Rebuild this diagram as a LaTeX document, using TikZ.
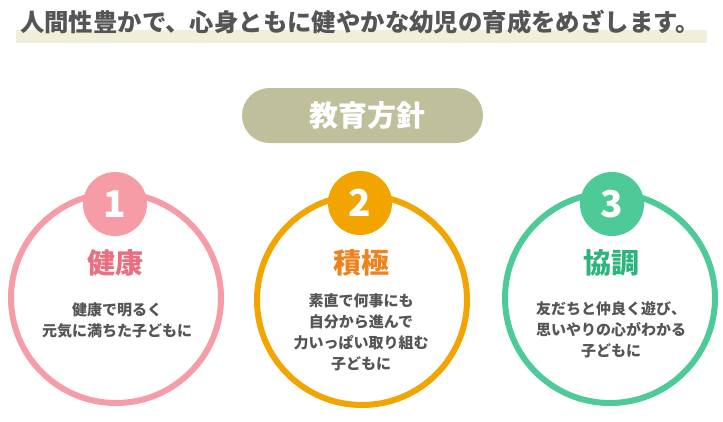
\documentclass[tikz,border=0pt]{standalone}
\usepackage{fontspec}
\newfontfamily\jp{Noto Sans CJK JP}
\definecolor{txtgray}{HTML}{555555}
\definecolor{band}{HTML}{F1EEDA}
\definecolor{pill}{HTML}{BFBF9B}
\definecolor{pinkring}{HTML}{F59CA7}
\definecolor{pinktxt}{HTML}{EA6F80}
\definecolor{orring}{HTML}{F2A500}
\definecolor{ortxt}{HTML}{EF821C}
\definecolor{grring}{HTML}{4DCA97}
\definecolor{grtxt}{HTML}{2DB47A}
\tikzset{
  ring/.style={draw=#1, line width=6pt, fill=white},
  numcirc/.style={circle, fill=#1, minimum size=64pt, inner sep=0pt, text=white, font=\jp\bfseries\fontsize{37}{37}\selectfont},
  ttl/.style={text=#1, font=\jp\bfseries\fontsize{28}{30}\selectfont},
  body/.style={text=txtgray, align=center, font=\jp\bfseries\fontsize{15}{21}\selectfont},
}
\begin{document}
\begin{tikzpicture}[x=1pt,y=-1pt]
\useasboundingbox (0,0) rectangle (723,421);
% header
\fill[band] (16,30) rectangle (707,43);
\node[text=txtgray, font=\jp\bfseries\fontsize{24.4}{28}\selectfont, inner sep=0pt] (head) at (360,22) {人間性豊かで、心身ともに健やかな幼児の育成をめざします。};
% pill
\node[fill=pill, rounded corners=27.5pt, minimum width=241pt, minimum height=55pt, inner sep=0pt] (pillbox) at (362.5,115.5) {};
\node[text=white, font=\jp\bfseries\fontsize{29}{30}\selectfont, inner sep=0pt] (pilltxt) at (367,115.5) {教育方針};
% circle 1
\draw[ring=pinkring] (116,298) circle (105);
\node[numcirc=pinkring] (n1) at (115,204) {1};
\node[ttl=pinktxt] (t1) at (115,263) {健康};
\node[body] (b1) at (117,320) {健康で明るく\\元気に満ちた子どもに};
% circle 2
\draw[ring=orring] (362,300) circle (105);
\node[numcirc=orring] (n2) at (360,203) {2};
\node[ttl=ortxt] (t2) at (361,263) {積極};
\node[body] (b2) at (361,332) {素直で何事にも\\自分から進んで\\力いっぱい取り組む\\子どもに};
% circle 3
\draw[ring=grring] (610,298) circle (105);
\node[numcirc=grring] (n3) at (612,204) {3};
\node[ttl=grtxt] (t3) at (611,263) {協調};
\node[body] (b3) at (611,330) {友だちと仲良く遊び、\\思いやりの心がわかる\\子どもに};
\end{tikzpicture}
\end{document}
